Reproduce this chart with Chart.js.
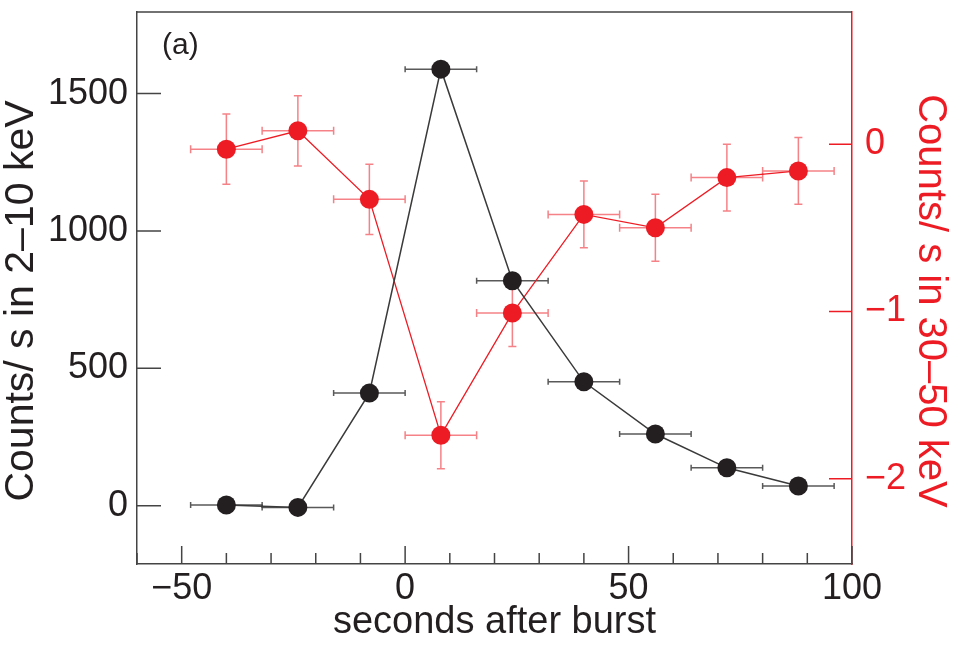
<!DOCTYPE html>
<html>
<head>
<meta charset="utf-8">
<script src="https://cdn.jsdelivr.net/npm/chart.js@4"></script>
<style>
  html, body { margin: 0; padding: 0; background: #fff; }
  #wrap { width: 953px; height: 645px; }
</style>
</head>
<body>
<div id="wrap"><canvas id="burstChart"></canvas></div>
<script>
// data
const times = [-40, -24, -8, 8, 24, 40, 56, 72, 88];
const timeErr = [8, 8, 8, 8, 8, 8, 8, 8, 8];
const softRate = [3, -6, 410, 1589, 819, 451, 261, 138, 72];
const hardRate = [-0.03, 0.08, -0.33, -1.74, -1.01, -0.42, -0.50, -0.20, -0.16];
const hardErr = [0.21, 0.21, 0.21, 0.2, 0.2, 0.2, 0.2, 0.2, 0.2];

const xMajorTicks = [-50, 0, 50, 100];
const xMinorTicks = [-60, -40, -30, -20, -10, 10, 20, 30, 40, 60, 70, 80, 90];
const softTicks = [0, 500, 1000, 1500];
const hardTicks = [-2, -1, 0];

const softTitle = "Counts/ s in 2\u201310 keV";
const hardTitle = "Counts/ s in 30\u201350 keV";

const INK = "#231f20";
const RED = "#ed1c24";
const FONT = "'Liberation Sans', Arial, sans-serif";

const minus = v => String(v).replace("-", "\u2212");

// error bars, drawn under the markers
const errorBars = {
  id: "errorBars",
  beforeDatasetsDraw(chart) {
    const ctx = chart.ctx;
    const x = chart.scales.x, y = chart.scales.y, y2 = chart.scales.y2;
    ctx.save();
    // black: horizontal only
    ctx.strokeStyle = "rgba(60,60,60,0.85)";
    ctx.lineWidth = 1.5;
    times.forEach((t, i) => {
      const py = y.getPixelForValue(softRate[i]);
      const x0 = x.getPixelForValue(t - timeErr[i]);
      const x1 = x.getPixelForValue(t + timeErr[i]);
      ctx.beginPath();
      ctx.moveTo(x0, py); ctx.lineTo(x1, py);
      ctx.moveTo(x0, py - 3); ctx.lineTo(x0, py + 3);
      ctx.moveTo(x1, py - 3); ctx.lineTo(x1, py + 3);
      ctx.stroke();
    });
    // red: both directions
    ctx.strokeStyle = "rgba(237,28,36,0.55)";
    ctx.lineWidth = 1.5;
    times.forEach((t, i) => {
      const px = x.getPixelForValue(t);
      const py = y2.getPixelForValue(hardRate[i]);
      const x0 = x.getPixelForValue(t - timeErr[i]);
      const x1 = x.getPixelForValue(t + timeErr[i]);
      const yTop = y2.getPixelForValue(hardRate[i] + hardErr[i]);
      const yBot = y2.getPixelForValue(hardRate[i] - hardErr[i]);
      ctx.beginPath();
      ctx.moveTo(x0, py); ctx.lineTo(x1, py);
      ctx.moveTo(x0, py - 4); ctx.lineTo(x0, py + 4);
      ctx.moveTo(x1, py - 4); ctx.lineTo(x1, py + 4);
      ctx.moveTo(px, yTop); ctx.lineTo(px, yBot);
      ctx.moveTo(px - 4, yTop); ctx.lineTo(px + 4, yTop);
      ctx.moveTo(px - 4, yBot); ctx.lineTo(px + 4, yBot);
      ctx.stroke();
    });
    ctx.restore();
  }
};

// inward tick marks, top frame line, y titles and panel label
const frame = {
  id: "frame",
  afterDraw(chart) {
    const ctx = chart.ctx;
    const a = chart.chartArea;
    const x = chart.scales.x, y = chart.scales.y, y2 = chart.scales.y2;
    ctx.save();
    ctx.lineWidth = 1.5;
    ctx.strokeStyle = "#444";
    ctx.beginPath();
    ctx.moveTo(a.left, a.top); ctx.lineTo(a.right, a.top);
    xMajorTicks.forEach(v => {
      const px = x.getPixelForValue(v);
      ctx.moveTo(px, a.bottom); ctx.lineTo(px, a.bottom - 18);
    });
    xMinorTicks.forEach(v => {
      const px = x.getPixelForValue(v);
      ctx.moveTo(px, a.bottom); ctx.lineTo(px, a.bottom - 11);
    });
    softTicks.forEach(v => {
      const py = y.getPixelForValue(v);
      ctx.moveTo(a.left, py); ctx.lineTo(a.left + 24, py);
    });
    ctx.stroke();
    ctx.strokeStyle = RED;
    ctx.beginPath();
    hardTicks.forEach(v => {
      const py = y2.getPixelForValue(v);
      ctx.moveTo(a.right, py); ctx.lineTo(a.right - 23, py);
    });
    ctx.stroke();

    const midY = (a.top + a.bottom) / 2 + 13;
    ctx.font = "41px " + FONT;
    ctx.textAlign = "center";
    ctx.textBaseline = "alphabetic";
    ctx.fillStyle = INK;
    ctx.save();
    ctx.translate(33, midY);
    ctx.rotate(-Math.PI / 2);
    ctx.fillText(softTitle, 0, 0);
    ctx.restore();
    ctx.fillStyle = RED;
    ctx.save();
    ctx.font = "40px " + FONT;
    ctx.translate(a.right + 67, midY);
    ctx.rotate(Math.PI / 2);
    ctx.fillText(hardTitle, 0, 0);
    ctx.restore();

    ctx.fillStyle = INK;
    ctx.font = "30px " + FONT;
    ctx.textAlign = "left";
    ctx.fillText("(a)", a.left + 25, a.top + 42);
    ctx.restore();
  }
};

// keep the plot box where the figure has it
const fitY = w => s => { s.width = w; s.paddingTop = 0; s.paddingBottom = 0; };
const fitX = h => s => { s.height = h; s.paddingLeft = 0; s.paddingRight = 0; };

new Chart(document.getElementById("burstChart"), {
  type: "scatter",
  data: {
    datasets: [
      {
        label: "2-10 keV",
        data: times.map((t, i) => ({ x: t, y: softRate[i] })),
        yAxisID: "y",
        showLine: true,
        borderColor: "#3a3a3a",
        borderWidth: 1.5,
        backgroundColor: INK,
        pointBackgroundColor: INK,
        pointBorderColor: INK,
        pointRadius: 9.5,
        pointBorderWidth: 0
      },
      {
        label: "30-50 keV",
        data: times.map((t, i) => ({ x: t, y: hardRate[i] })),
        yAxisID: "y2",
        showLine: true,
        borderColor: RED,
        borderWidth: 1.3,
        backgroundColor: RED,
        pointBackgroundColor: RED,
        pointBorderColor: RED,
        pointRadius: 9.5,
        pointBorderWidth: 0
      }
    ]
  },
  options: {
    responsive: true,
    maintainAspectRatio: false,
    animation: false,
    layout: { padding: { top: 12, left: 0, right: 0, bottom: 0 } },
    plugins: {
      legend: { display: false },
      tooltip: { enabled: false }
    },
    scales: {
      x: {
        type: "linear",
        min: -60,
        max: 100,
        afterBuildTicks: s => { s.ticks = xMajorTicks.map(v => ({ value: v })); },
        afterFit: fitX(81),
        grid: { display: false },
        border: { display: true, color: "#444", width: 1.5 },
        ticks: {
          color: INK,
          font: { family: FONT, size: 36 },
          padding: -5,
          maxRotation: 0,
          callback: v => minus(v)
        },
        title: {
          display: true,
          text: "seconds after burst",
          color: INK,
          font: { family: FONT, size: 38, lineHeight: 1 },
          padding: { top: 0, bottom: 3 }
        }
      },
      y: {
        type: "linear",
        position: "left",
        min: -212,
        max: 1797,
        afterBuildTicks: s => { s.ticks = softTicks.map(v => ({ value: v })); },
        afterFit: fitY(137),
        grid: { display: false },
        border: { display: true, color: "#444", width: 1.5 },
        ticks: {
          color: INK,
          font: { family: FONT, size: 36 },
          padding: 1,
          callback: v => String(v)
        },
        title: { display: false }
      },
      y2: {
        type: "linear",
        position: "right",
        min: -2.51,
        max: 0.79,
        afterBuildTicks: s => { s.ticks = hardTicks.map(v => ({ value: v })); },
        afterFit: fitY(101),
        grid: { display: false },
        border: { display: true, color: RED, width: 1.5 },
        ticks: {
          color: RED,
          font: { family: FONT, size: 36 },
          padding: 5,
          callback: v => minus(v)
        },
        title: { display: false }
      }
    }
  },
  plugins: [errorBars, frame]
});
</script>
</body>
</html>
